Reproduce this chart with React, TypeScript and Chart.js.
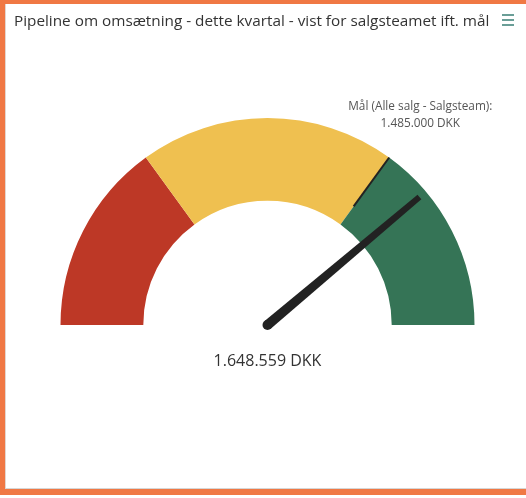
import React, { useEffect, useRef } from "react";
import { Chart, registerables } from "chart.js";

Chart.register(...registerables);

const chartTitle = "Pipeline om omsætning - dette kvartal - vist for salgsteamet ift. mål";
const bandLabels = ["Under mål", "Mod mål", "Over mål"];
const bandEnds = [636429, 1485000, 2121429];
const bandColors = ["#BD3826", "#EFC050", "#357456"];
const actualValue = 1648559;
const targetValue = 1485000;
const targetLabel = "Mål (Alle salg - Salgsteam):";
const currencyUnit = "DKK";

function formatDk(n: number): string {
  const s = Math.round(n).toString();
  return s.replace(/\B(?=(\d{3})+(?!\d))/g, ".");
}

const bandSizes = bandEnds.map((e, i) => e - (i > 0 ? bandEnds[i - 1] : 0));

const gaugeOverlay = {
  id: "gaugeOverlay",
  afterDatasetsDraw(chart: any) {
    const meta = chart.getDatasetMeta(0);
    const arc = meta.data[0];
    if (!arc) return;
    const { x, y, outerRadius, innerRadius } = arc.getProps(
      ["x", "y", "outerRadius", "innerRadius"],
      true
    );
    const max = bandEnds[bandEnds.length - 1];
    const angleFor = (v: number) => Math.PI + (v / max) * Math.PI;
    const ctx = chart.ctx as CanvasRenderingContext2D;
    ctx.save();

    // target marker
    const ta = angleFor(targetValue);
    const r0 = innerRadius + (outerRadius - innerRadius) * 0.27;
    ctx.strokeStyle = "#222222";
    ctx.lineWidth = 2;
    ctx.beginPath();
    ctx.moveTo(x + Math.cos(ta) * r0, y + Math.sin(ta) * r0);
    ctx.lineTo(x + Math.cos(ta) * outerRadius, y + Math.sin(ta) * outerRadius);
    ctx.stroke();

    // needle
    const a = angleFor(actualValue);
    const len = outerRadius * 0.96;
    const px = -Math.sin(a);
    const py = Math.cos(a);
    const bw = 5;
    const tw = 3;
    const tx = x + Math.cos(a) * len;
    const ty = y + Math.sin(a) * len;
    ctx.fillStyle = "#222222";
    ctx.beginPath();
    ctx.moveTo(x + px * bw, y + py * bw);
    ctx.lineTo(tx + px * tw, ty + py * tw);
    ctx.lineTo(tx - px * tw, ty - py * tw);
    ctx.lineTo(x - px * bw, y - py * bw);
    ctx.closePath();
    ctx.fill();
    ctx.beginPath();
    ctx.arc(x, y, bw, 0, Math.PI * 2);
    ctx.fill();

    // value label
    ctx.fillStyle = "#333333";
    ctx.font = "16px 'Open Sans', sans-serif";
    ctx.textAlign = "center";
    ctx.textBaseline = "middle";
    ctx.fillText(formatDk(actualValue) + " " + currencyUnit, x, y + 36);

    // target label
    const lr = outerRadius + 53;
    const lx = x + Math.cos(ta) * lr;
    const ly = y + Math.sin(ta) * lr;
    ctx.fillStyle = "#555555";
    ctx.font = "11.8px 'Open Sans', sans-serif";
    ctx.fillText(targetLabel, lx, ly - 8);
    ctx.fillText(formatDk(targetValue) + " " + currencyUnit, lx, ly + 9);

    ctx.restore();
  },
};

export default function App() {
  const canvasRef = useRef<HTMLCanvasElement | null>(null);

  useEffect(() => {
    if (!canvasRef.current) return;
    const chart = new Chart(canvasRef.current, {
      type: "doughnut",
      data: {
        labels: bandLabels,
        datasets: [
          {
            data: bandSizes,
            backgroundColor: bandColors,
            borderWidth: 0,
            hoverOffset: 0,
          },
        ],
      },
      options: {
        responsive: false,
        animation: false,
        rotation: -90,
        circumference: 180,
        cutout: "60%",
        layout: {
          padding: { left: 60.5, right: 51.5, top: 118, bottom: 173 },
        },
        plugins: {
          legend: { display: false },
          title: { display: false },
          tooltip: { enabled: false },
        },
        events: [],
      },
      plugins: [gaugeOverlay],
    });
    return () => chart.destroy();
  }, []);

  const orange = "#F07844";
  return (
    <div
      style={{
        position: "absolute",
        left: 0,
        top: 0,
        width: 526,
        height: 498,
        background: "#ffffff",
        overflow: "hidden",
      }}
    >
      <canvas
        ref={canvasRef}
        width={526}
        height={498}
        style={{ position: "absolute", left: 0, top: 0, width: 526, height: 498 }}
      />
      <div
        style={{
          position: "absolute",
          left: 14,
          top: 10,
          font: "15.3px 'Open Sans', sans-serif",
          color: "#333333",
          whiteSpace: "nowrap",
          lineHeight: "21px",
        }}
      >
        {chartTitle}
      </div>
      {[15, 20, 25].map((yy) => (
        <div
          key={yy}
          style={{
            position: "absolute",
            left: 502,
            top: yy - 1,
            width: 12,
            height: 2,
            background: "#6a9e97",
          }}
        />
      ))}
      {/* frame */}
      <div style={{ position: "absolute", left: 0, top: 0, width: 526, height: 4, background: orange }} />
      <div style={{ position: "absolute", left: 0, top: 0, width: 5, height: 495, background: orange }} />
      <div style={{ position: "absolute", left: 5, top: 4, width: 1, height: 484, background: "#e3d6d0" }} />
      <div style={{ position: "absolute", left: 5, top: 488, width: 521, height: 1, background: "#d6d6d6" }} />
      <div style={{ position: "absolute", left: 1, top: 489, width: 525, height: 6, background: orange }} />
    </div>
  );
}
